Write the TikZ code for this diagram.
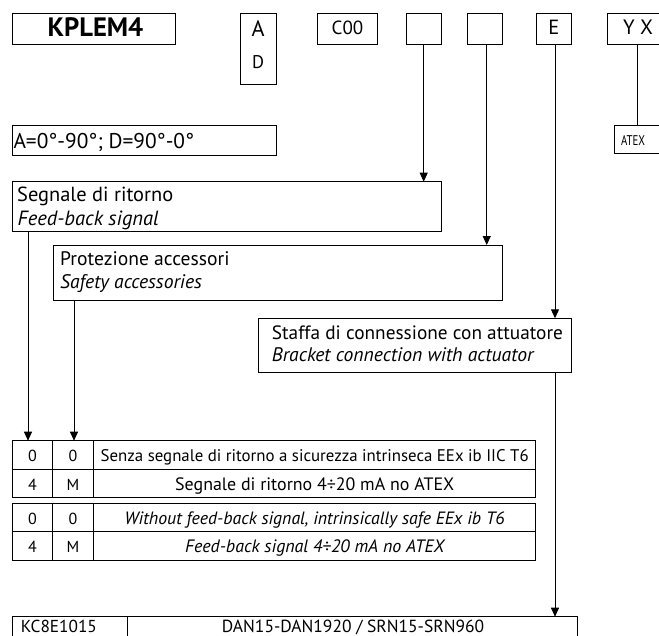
\documentclass[tikz,border=0pt]{standalone}
\usepackage{graphicx}
\usepackage{fontspec}
\setmainfont{PT Sans}
\usetikzlibrary{arrows.meta}
\newcommand{\fitw}[2]{\resizebox{#1pt}{!}{#2}}
\begin{document}
\begin{tikzpicture}[x=1pt,y=-1pt,
  box/.style={draw, line width=0.8pt, inner sep=0pt, outer sep=0pt, anchor=north west},
  lbl/.style={inner sep=0pt, anchor=base},
  lblw/.style={inner sep=0pt, anchor=base west},
  big/.style={font=\fontsize{18}{21}\selectfont},
  small/.style={font=\fontsize{16}{19}\selectfont},
  cell/.style={box, font=\fontsize{16}{19}\selectfont, text height=13.7pt, text depth=0pt},
  arr/.style={-{Triangle[length=9pt,width=8pt]}, line width=0.9pt},
  conn/.style={line width=0.9pt}]
\path[use as bounding box, clip] (0,0) rectangle (659,635);
% top code boxes
\node[box, minimum width=163pt, minimum height=31pt] (kp) at (12,13) {};
\node[box, minimum width=36pt, minimum height=71pt] (ad) at (240,13) {};
\node[box, minimum width=60pt, minimum height=31pt] (c00) at (317.3,13) {};
\node[box, minimum width=35pt, minimum height=31pt] (b1) at (406,13) {};
\node[box, minimum width=34.5pt, minimum height=31pt] (b2) at (467.7,13) {};
\node[box, minimum width=35pt, minimum height=31pt] (e) at (536,13) {};
\node[box, minimum width=60pt, minimum height=31pt] (yx) at (607.7,13) {};
\node[box, minimum width=55pt, minimum height=27.3pt] (atex) at (614,125.7) {};
\node[lbl, font=\bfseries] (tkp) at (95.5,36.7) {\fitw{95.6}{KPLEM4}};
\node[lbl, big] (ta) at (258,36) {\fitw{13}{A}};
\node[lbl, big] (td) at (258,68.3) {\fitw{12}{D}};
\node[lbl, big] (tc) at (347.5,34.5) {\fitw{31.6}{C00}};
\node[lbl, big] (te) at (553.8,34.7) {\fitw{11}{E}};
\node[lbl, big] (tyx) at (638,34.7) {\fitw{30}{Y X}};
\node[lbl] (tatex) at (633,145) {\resizebox{24pt}{10pt}{ATEX}};
% angle box
\node[box, minimum width=264pt, minimum height=30pt] (ang) at (12,125) {};
\node[lblw, big] (tang) at (13.3,148.3) {\fitw{180.7}{A=0°-90°; D=90°-0°}};
% description boxes
\node[box, minimum width=429pt, minimum height=50pt] (seg) at (12,181.7) {};
\node[lblw, big] (tseg1) at (17,201.7) {\fitw{156}{Segnale di ritorno}};
\node[lblw, big] (tseg2) at (17.5,225) {\fitw{141}{\itshape Feed-back signal}};
\node[box, minimum width=449.4pt, minimum height=55.7pt] (pro) at (53.3,245) {};
\node[lblw, big] (tpro1) at (60,265) {\fitw{169.3}{Protezione accessori}};
\node[lblw, big] (tpro2) at (60,288.3) {\fitw{141.7}{\itshape Safety accessories}};
\node[box, minimum width=313.4pt, minimum height=54.4pt] (sta) at (258.3,318.3) {};
\node[lblw, big] (tsta1) at (271.7,339) {\fitw{291}{Staffa di connessione con attuatore}};
\node[lblw, big] (tsta2) at (271.7,361) {\fitw{261.7}{\itshape Bracket connection with actuator}};
% table 1
\node[cell, minimum width=39.6pt, minimum height=28.3pt] (r1a) at (12.7,440.7) {0};
\node[cell, minimum width=41.4pt, minimum height=28.3pt] (r1b) at (52.3,440.7) {0};
\node[cell, minimum width=442pt, minimum height=28.3pt] (r1c) at (93.7,440.7) {\fitw{428}{Senza segnale di ritorno a sicurezza intrinseca EEx ib IIC T6}};
\node[cell, minimum width=39.6pt, minimum height=28.3pt] (r2a) at (12.7,469) {4};
\node[cell, minimum width=41.4pt, minimum height=28.3pt] (r2b) at (52.3,469) {M};
\node[cell, minimum width=442pt, minimum height=28.3pt] (r2c) at (93.7,469) {\fitw{279}{Segnale di ritorno 4÷20 mA no ATEX}};
% table 2
\node[cell, minimum width=39.6pt, minimum height=28.4pt] (r3a) at (12.7,503.3) {0};
\node[cell, minimum width=41.4pt, minimum height=28.4pt] (r3b) at (52.3,503.3) {0};
\node[cell, minimum width=442pt, minimum height=28.4pt] (r3c) at (93.7,503.3) {\fitw{380}{\itshape Without feed-back signal, intrinsically safe EEx ib T6}};
\node[cell, minimum width=39.6pt, minimum height=28.6pt] (r4a) at (12.7,531.7) {4};
\node[cell, minimum width=41.4pt, minimum height=28.6pt] (r4b) at (52.3,531.7) {M};
\node[cell, minimum width=442pt, minimum height=28.6pt] (r4c) at (93.7,531.7) {\fitw{259}{\itshape Feed-back signal 4÷20 mA no ATEX}};
% bottom box
\node[box, minimum width=114.6pt, minimum height=35pt] (k1) at (12.7,616.7) {};
\node[box, minimum width=450pt, minimum height=35pt] (k2) at (127.3,616.7) {};
\node[lblw, small, text depth=0pt] (tk1) at (20.7,632.3) {\fitw{76}{KC8E1015}};
\node[lblw, small, text depth=0pt] (tk2) at (221.7,632.3) {\fitw{262.3}{DAN15-DAN1920 / SRN15-SRN960}};
% connectors
\draw[arr] ([xshift=0.2pt]b1.south) -- ([xshift=0.2pt]b1.south |- seg.north);
\draw[arr] ([xshift=1.8pt]b2.south) -- ([xshift=1.8pt]b2.south |- pro.north);
\draw[arr] ([xshift=1.5pt]e.south) -- ([xshift=1.5pt]e.south |- sta.north);
\draw[arr] ([xshift=1.5pt]e.south |- sta.south) -- ([xshift=1.5pt]e.south |- k2.north);
\draw[arr] ([xshift=16pt]seg.south west) -- ([xshift=16pt]seg.south west |- r1a.north);
\draw[arr] ([xshift=20.7pt]pro.south west) -- ([xshift=20.7pt]pro.south west |- r1b.north);
\draw[conn] ([xshift=30pt]yx.south west) -- ([xshift=30pt]yx.south west |- atex.north);
\end{tikzpicture}
\end{document}
